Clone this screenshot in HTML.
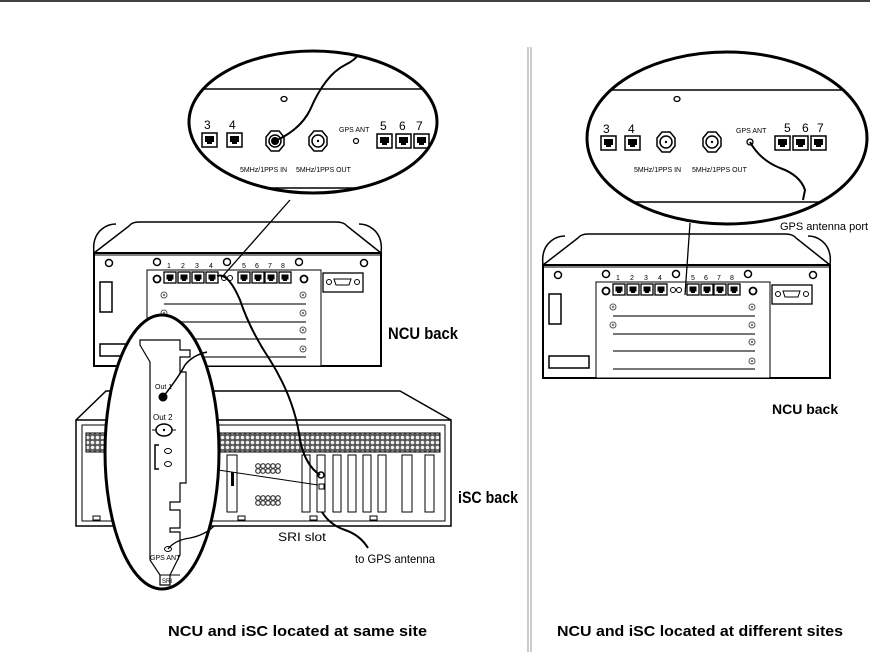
<!DOCTYPE html>
<html><head><meta charset="utf-8"><style>
html,body{margin:0;padding:0;background:#fff;}
svg{display:block;font-family:"Liberation Sans",sans-serif;}
.b{font-weight:bold;}
</style></head><body>
<svg width="870" height="652" viewBox="0 0 870 652" xmlns="http://www.w3.org/2000/svg">
<defs>
<clipPath id="cl"><ellipse cx="313" cy="122" rx="124" ry="71"/></clipPath>
<clipPath id="cr"><ellipse cx="727" cy="138" rx="140" ry="86"/></clipPath>
<pattern id="hex" width="5" height="5" patternUnits="userSpaceOnUse">
<rect width="5" height="5" fill="#555"/><circle cx="2.5" cy="2.5" r="1.8" fill="#eee"/>
</pattern>
<g id="rj"><rect x="0" y="0" width="15" height="14" fill="#fff" stroke="#000" stroke-width="1.5"/><path d="M3 3h9v6h-2v2h-5v-2h-2z" fill="#000"/></g>
<g id="rjs"><rect x="0" y="0" width="12" height="11" fill="#fff" stroke="#000" stroke-width="1.3"/><path d="M2.5 2.5h7v5h-1.5v1.5h-4v-1.5h-1.5z" fill="#000"/></g>
<g id="coax"><polygon points="-9,-4 -4,-10 4,-10 9,-4 9,4 4,10 -4,10 -9,4" fill="#fff" stroke="#000" stroke-width="1.5"/><circle r="6" fill="#fff" stroke="#000" stroke-width="1.5"/><circle r="1.2" fill="#000"/></g>
<g id="scr"><circle r="3" fill="#fff" stroke="#555" stroke-width="1"/><circle r="1.2" fill="#777"/></g>
<g id="ncu">
<path d="M0 31 L35 4 Q38 0 45 0 L242 0 Q250 0 253 4 L287 31" fill="#fff" stroke="#000" stroke-width="1.5"/>
<path d="M0 31 Q-2 15 8 7 Q14 2 22 2 M287 31 Q289 15 279 7 Q273 2 265 2" fill="none" stroke="#000" stroke-width="1.5"/>
<rect x="0" y="31" width="287" height="113" fill="#fff" stroke="#000" stroke-width="2"/>
<line x1="0" y1="33" x2="287" y2="33" stroke="#000" stroke-width="1"/>
<circle cx="15" cy="41" r="3.5" fill="#fff" stroke="#000" stroke-width="1.5"/>
<circle cx="63" cy="40" r="3.5" fill="#fff" stroke="#000" stroke-width="1.5"/>
<circle cx="133" cy="40" r="3.5" fill="#fff" stroke="#000" stroke-width="1.5"/>
<circle cx="205" cy="40" r="3.5" fill="#fff" stroke="#000" stroke-width="1.5"/>
<circle cx="270" cy="41" r="3.5" fill="#fff" stroke="#000" stroke-width="1.5"/>
<rect x="6" y="60" width="12" height="30" fill="#fff" stroke="#000" stroke-width="1.5"/>
<rect x="6" y="122" width="40" height="12" fill="#fff" stroke="#000" stroke-width="1.5"/>
<rect x="53" y="48" width="174" height="96" fill="#fff" stroke="#000" stroke-width="1"/>
<rect x="229" y="51" width="40" height="19" fill="#fff" stroke="#000" stroke-width="1.3"/>
<circle cx="235" cy="60" r="2.5" fill="#fff" stroke="#000"/><circle cx="263" cy="60" r="2.5" fill="#fff" stroke="#000"/>
<path d="M240 57h17l-2 6h-13z" fill="#fff" stroke="#000"/>
<g font-size="7"><text x="73" y="46">1</text><text x="87" y="46">2</text><text x="101" y="46">3</text><text x="115" y="46">4</text><text x="148" y="46">5</text><text x="161" y="46">6</text><text x="174" y="46">7</text><text x="187" y="46">8</text></g>
<circle cx="63" cy="57" r="3.5" fill="#fff" stroke="#000" stroke-width="1.8"/>
<use href="#rjs" x="70" y="50"/><use href="#rjs" x="84" y="50"/><use href="#rjs" x="98" y="50"/><use href="#rjs" x="112" y="50"/>
<circle cx="130" cy="56" r="2.5" fill="#fff" stroke="#000"/><circle cx="136" cy="56" r="2.5" fill="#fff" stroke="#000"/>
<use href="#rjs" x="144" y="50"/><use href="#rjs" x="158" y="50"/><use href="#rjs" x="171" y="50"/><use href="#rjs" x="185" y="50"/>
<circle cx="210" cy="57" r="3.5" fill="#fff" stroke="#000" stroke-width="1.8"/>
<use href="#scr" x="70" y="73"/><use href="#scr" x="209" y="73"/>
<line x1="70" y1="82" x2="212" y2="82" stroke="#777" stroke-width="2"/>
<use href="#scr" x="70" y="91"/><use href="#scr" x="209" y="91"/>
<line x1="70" y1="100" x2="212" y2="100" stroke="#777" stroke-width="2"/>
<use href="#scr" x="209" y="108"/>
<line x1="70" y1="117" x2="212" y2="117" stroke="#777" stroke-width="2"/>
<use href="#scr" x="209" y="127"/>
<line x1="70" y1="135" x2="212" y2="135" stroke="#777" stroke-width="2"/>
</g>
</defs>

<line x1="0" y1="1" x2="870" y2="1" stroke="#000" stroke-width="1.5"/>
<line x1="528" y1="47" x2="528" y2="652" stroke="#999" stroke-width="1"/>
<line x1="531" y1="47" x2="531" y2="652" stroke="#999" stroke-width="1"/>

<!-- LEFT NCU -->
<use href="#ncu" x="94" y="222"/>
<text x="388" y="339" font-size="17" class="b" textLength="70" lengthAdjust="spacingAndGlyphs">NCU back</text>

<!-- iSC -->
<path d="M76 420 L106 391 L400 391 L451 420" fill="#fff" stroke="#000" stroke-width="1.5"/>
<rect x="76" y="420" width="375" height="106" fill="#fff" stroke="#000" stroke-width="1.5"/>
<rect x="82" y="425" width="363" height="96" fill="none" stroke="#000" stroke-width="1"/>
<rect x="86" y="433" width="354" height="19" fill="url(#hex)" stroke="#000"/>
<g fill="#fff" stroke="#000" stroke-width="1">
<rect x="227" y="455" width="10" height="57"/>
<rect x="302" y="455" width="8" height="57"/>
<rect x="317" y="455" width="8" height="57"/>
<rect x="333" y="455" width="8" height="57"/>
<rect x="348" y="455" width="8" height="57"/>
<rect x="363" y="455" width="8" height="57"/>
<rect x="378" y="455" width="8" height="57"/>
<rect x="402" y="455" width="10" height="57"/>
<rect x="425" y="455" width="9" height="57"/>
<rect x="93" y="516" width="7" height="4"/><rect x="238" y="516" width="7" height="4"/><rect x="310" y="516" width="7" height="4"/><rect x="370" y="516" width="7" height="4"/>
</g>
<rect x="231" y="472" width="3" height="14" fill="#000"/>
<g fill="#fff" stroke="#333" stroke-width="1.2">
<circle cx="258" cy="466" r="2.3"/><circle cx="263" cy="466" r="2.3"/><circle cx="268" cy="466" r="2.3"/><circle cx="273" cy="466" r="2.3"/><circle cx="278" cy="466" r="2.3"/>
<circle cx="258" cy="471" r="2.3"/><circle cx="263" cy="471" r="2.3"/><circle cx="268" cy="471" r="2.3"/><circle cx="273" cy="471" r="2.3"/><circle cx="278" cy="471" r="2.3"/>
<circle cx="258" cy="498" r="2.3"/><circle cx="263" cy="498" r="2.3"/><circle cx="268" cy="498" r="2.3"/><circle cx="273" cy="498" r="2.3"/><circle cx="278" cy="498" r="2.3"/>
<circle cx="258" cy="503" r="2.3"/><circle cx="263" cy="503" r="2.3"/><circle cx="268" cy="503" r="2.3"/><circle cx="273" cy="503" r="2.3"/><circle cx="278" cy="503" r="2.3"/>
</g>
<circle cx="321" cy="475" r="3" fill="#fff" stroke="#000" stroke-width="1.5"/>
<rect x="319" y="484" width="5" height="5" fill="#fff" stroke="#000"/>
<text x="458" y="503" font-size="17" class="b" textLength="60" lengthAdjust="spacingAndGlyphs">iSC back</text>
<text x="278" y="541" font-size="12" textLength="48" lengthAdjust="spacingAndGlyphs">SRI slot</text>
<text x="355" y="563" font-size="12" textLength="80" lengthAdjust="spacingAndGlyphs">to GPS antenna</text>

<!-- cables left -->
<path d="M217 276 Q228 272 240 300 Q250 330 270 360 Q295 400 300 440 Q305 465 320 475" fill="none" stroke="#000" stroke-width="2"/>
<path d="M322 512 Q330 525 345 530 Q360 535 368 548" fill="none" stroke="#000" stroke-width="2"/>
<path d="M218 470 L318 485" fill="none" stroke="#000" stroke-width="1"/>
<line x1="290" y1="200" x2="222" y2="277" stroke="#000" stroke-width="1.3"/>

<!-- SRI ellipse -->
<ellipse cx="162" cy="452" rx="57" ry="137" fill="#fff" stroke="#000" stroke-width="3"/>
<path d="M140 340 L180 340 L180 350 L190 350 L190 357 L180 357 L180 372 L186 372 L186 483 L180 483 L180 502 L170 502 L170 510 L180 510 L180 528 L170 528 L170 532 L180 532 L180 555 L170 575 L170 585 L160 585 L160 575 L150 560 L150 362 L140 345 Z" fill="#fff" stroke="#000" stroke-width="1.2"/>
<line x1="160" y1="575" x2="180" y2="575" stroke="#000"/>
<text x="155" y="389" font-size="7">Out 1</text>
<circle cx="163" cy="397" r="4.5" fill="#000"/>
<text x="153" y="420" font-size="8">Out 2</text>
<path d="M152 430 h4 M172 430 h4" stroke="#000"/>
<ellipse cx="164" cy="430" rx="8" ry="6" fill="#fff" stroke="#000" stroke-width="1.5"/><circle cx="164" cy="430" r="1.2" fill="#000"/>
<path d="M159 445 h-4 v24 h4" fill="none" stroke="#000" stroke-width="1.5"/>
<ellipse cx="168" cy="451" rx="3.5" ry="2.5" fill="#fff" stroke="#000"/>
<ellipse cx="168" cy="464" rx="3.5" ry="2.5" fill="#fff" stroke="#000"/>
<ellipse cx="168" cy="549" rx="3.5" ry="2.5" fill="#fff" stroke="#000"/>
<text x="150" y="560" font-size="7">GPS ANT</text>
<text x="162" y="583" font-size="6">SRI</text>
<path d="M163 397 Q178 378 185 365 Q193 355 207 352" fill="none" stroke="#000" stroke-width="1.5"/>
<path d="M168 549 Q175 540 190 538 Q205 535 214 526" fill="none" stroke="#000" stroke-width="1.3"/>

<!-- LEFT top ellipse -->
<ellipse cx="313" cy="122" rx="124" ry="71" fill="#fff"/>
<g clip-path="url(#cl)">
<line x1="190" y1="89" x2="437" y2="89" stroke="#000" stroke-width="1.5"/>
<line x1="190" y1="188" x2="437" y2="188" stroke="#000" stroke-width="1.5"/>
</g>
<ellipse cx="284" cy="99" rx="3" ry="2.5" fill="#fff" stroke="#000" stroke-width="1.3"/>
<g font-size="12"><text x="204" y="129">3</text><text x="229" y="129">4</text><text x="380" y="130">5</text><text x="399" y="130">6</text><text x="416" y="130">7</text></g>
<use href="#rj" x="202" y="133"/><use href="#rj" x="227" y="133"/>
<use href="#coax" x="275" y="141"/><circle cx="275" cy="141" r="4" fill="#000"/>
<use href="#coax" x="318" y="141"/>
<text x="339" y="132" font-size="7">GPS ANT</text>
<circle cx="356" cy="141" r="2.5" fill="#fff" stroke="#000" stroke-width="1.2"/>
<use href="#rj" x="377" y="134"/><use href="#rj" x="396" y="134"/><use href="#rj" x="414" y="134"/>
<text x="240" y="172" font-size="7">5MHz/1PPS IN</text>
<text x="296" y="172" font-size="7">5MHz/1PPS OUT</text>
<path d="M275 141 Q300 130 310 110 Q325 75 345 65 Q355 60 358 55" fill="none" stroke="#000" stroke-width="2"/>
<ellipse cx="313" cy="122" rx="124" ry="71" fill="none" stroke="#000" stroke-width="3"/>

<!-- RIGHT NCU -->
<use href="#ncu" x="543" y="234"/>
<line x1="690" y1="223" x2="685" y2="295" stroke="#000" stroke-width="1.3"/>
<text x="772" y="414" font-size="14" class="b">NCU back</text>

<!-- RIGHT top ellipse -->
<ellipse cx="727" cy="138" rx="140" ry="86" fill="#fff"/>
<g clip-path="url(#cr)">
<line x1="587" y1="90" x2="867" y2="90" stroke="#000" stroke-width="1.5"/>
<line x1="587" y1="202" x2="867" y2="202" stroke="#000" stroke-width="1.5"/>
</g>
<ellipse cx="677" cy="99" rx="3" ry="2.5" fill="#fff" stroke="#000" stroke-width="1.3"/>
<g font-size="12"><text x="603" y="133">3</text><text x="628" y="133">4</text><text x="784" y="132">5</text><text x="802" y="132">6</text><text x="817" y="132">7</text></g>
<use href="#rj" x="601" y="136"/><use href="#rj" x="625" y="136"/>
<use href="#coax" x="666" y="142"/>
<use href="#coax" x="712" y="142"/>
<text x="736" y="133" font-size="7">GPS ANT</text>
<circle cx="750" cy="142" r="3" fill="#fff" stroke="#000" stroke-width="1.3"/>
<use href="#rj" x="775" y="136"/><use href="#rj" x="793" y="136"/><use href="#rj" x="811" y="136"/>
<text x="634" y="172" font-size="7">5MHz/1PPS IN</text>
<text x="692" y="172" font-size="7">5MHz/1PPS OUT</text>
<path d="M750 142 Q760 160 780 168 Q800 175 805 190 L803 200" fill="none" stroke="#000" stroke-width="2"/>
<ellipse cx="727" cy="138" rx="140" ry="86" fill="none" stroke="#000" stroke-width="3"/>
<text x="780" y="230" font-size="11">GPS antenna port</text>

<!-- captions -->
<text x="168" y="636" font-size="15" class="b" textLength="259" lengthAdjust="spacingAndGlyphs">NCU and iSC located at same site</text>
<text x="557" y="636" font-size="15" class="b" textLength="286" lengthAdjust="spacingAndGlyphs">NCU and iSC located at different sites</text>
</svg>
</body></html>
